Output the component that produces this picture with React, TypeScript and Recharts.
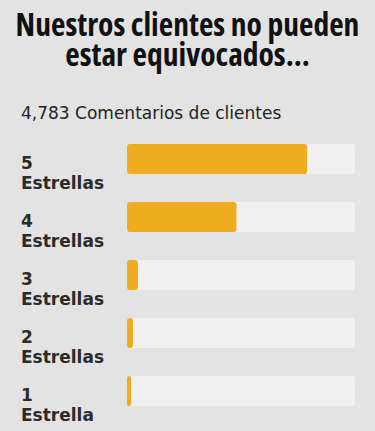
import React from 'react';
import { BarChart, Bar, XAxis, YAxis } from 'recharts';

const starLabels = ['5', '4', '3', '2', '1'];
const starWords = ['Estrellas', 'Estrellas', 'Estrellas', 'Estrellas', 'Estrella'];
const sharePct = [79, 48, 4.8, 2.6, 1.8];

const data = starLabels.map((s, i) => ({ name: s, word: starWords[i], value: sharePct[i] }));

const StarTick = (props: any) => {
  const { y, payload } = props;
  const row = data[payload.index] || data.find((d) => d.name === payload.value);
  return (
    <text x={21} y={y} fill="#2b2b2b" fontSize={17} fontWeight={700} fontFamily="'DejaVu Sans', sans-serif" textAnchor="start">
      <tspan x={21} dy={10}>{payload.value}</tspan>
      <tspan x={21} dy={20}>{row ? row.word : ''}</tspan>
    </text>
  );
};

const App: React.FC = () => {
  return (
    <div style={{ position: 'absolute', left: 0, top: 0, width: 375, height: 431, background: '#e3e3e3', overflow: 'hidden' }}>
      <div
        style={{
          position: 'absolute', top: 9, left: 0, width: 375, textAlign: 'center',
          fontFamily: "'Open Sans', 'DejaVu Sans Condensed', sans-serif", fontStretch: 'condensed',
          fontWeight: 750, fontSize: 31.5, lineHeight: '30px', color: '#111',
        }}
      >
        Nuestros clientes no pueden<br />estar equivocados...
      </div>
      <div
        style={{
          position: 'absolute', top: 103, left: 21, fontFamily: "'DejaVu Sans', sans-serif",
          fontSize: 17, color: '#222',
        }}
      >
        4,783 Comentarios de clientes
      </div>
      <div style={{ position: 'absolute', top: 130, left: 0 }}>
        <BarChart width={375} height={300} data={data} layout="vertical" margin={{ top: 0, right: 20, bottom: 10, left: 0 }} barSize={30}>
          <XAxis type="number" domain={[0, 100]} hide />
          <YAxis type="category" dataKey="name" width={127} axisLine={false} tickLine={false} tick={<StarTick />} interval={0} />
          <Bar dataKey="value" fill="#edad1f" radius={3} background={{ fill: '#f0f0f0', radius: 3 }} isAnimationActive={false} />
        </BarChart>
      </div>
    </div>
  );
};

export default App;
